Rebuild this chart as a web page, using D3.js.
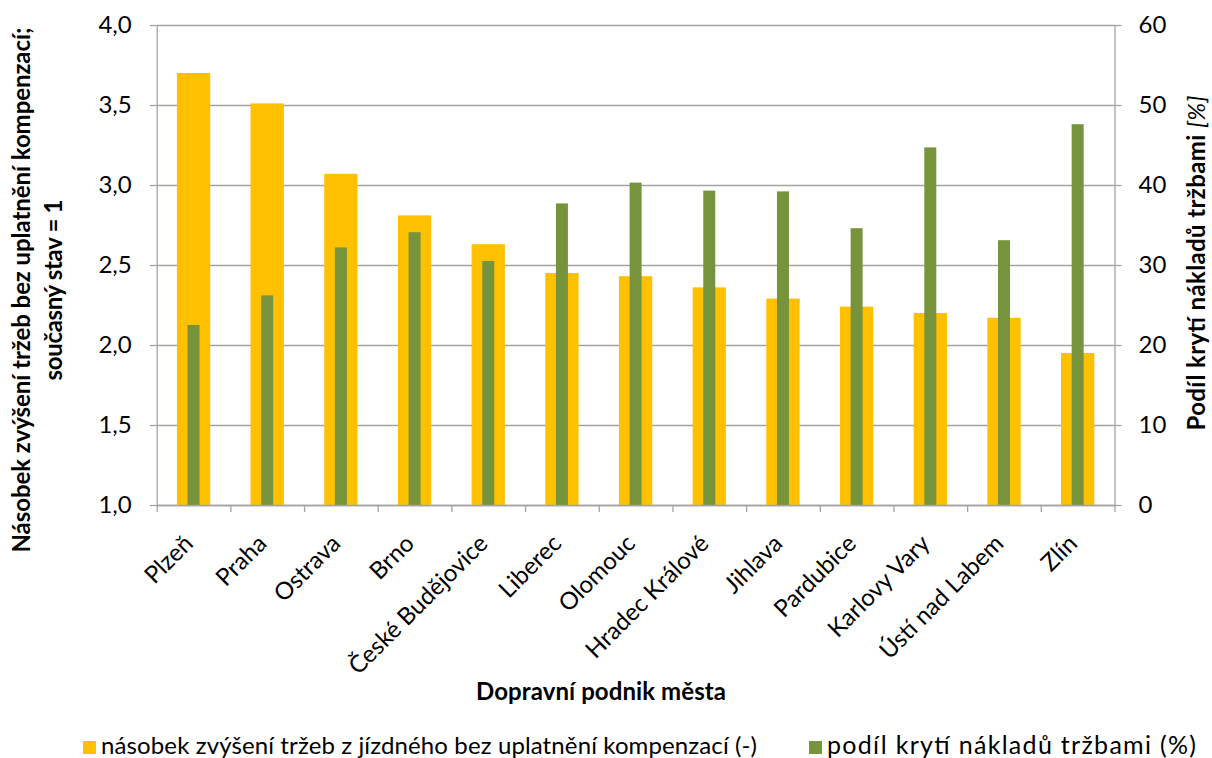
<!DOCTYPE html>
<html>
<head>
<meta charset="utf-8">
<script src="https://cdn.jsdelivr.net/npm/d3@7/dist/d3.min.js"></script>
<style>
  html, body { margin: 0; padding: 0; background: #fff; }
  svg text { font-family: Lato, "Open Sans", "Noto Sans", sans-serif; fill: #000; }
</style>
</head>
<body>
<svg id="chart" width="1212" height="758"></svg>
<script>
// Transit operators by city
const categories = ["Plzeň", "Praha", "Ostrava", "Brno", "České Budějovice", "Liberec",
  "Olomouc", "Hradec Králové", "Jihlava", "Pardubice", "Karlovy Vary", "Ústí nad Labem", "Zlín"];

// Fare revenue multiplier without compensation (current state = 1), left axis
const multiplier = [3.70, 3.51, 3.07, 2.81, 2.63, 2.45, 2.43, 2.36, 2.29, 2.24, 2.20, 2.17, 1.95];

// Share of costs covered by revenue, %, right axis
const coverage = [22.5, 26.2, 32.2, 34.1, 30.5, 37.7, 40.3, 39.3, 39.2, 34.6, 44.7, 33.1, 47.6];

const leftTicks = [1.0, 1.5, 2.0, 2.5, 3.0, 3.5, 4.0];
const rightTicks = [0, 10, 20, 30, 40, 50, 60];

const seriesNames = [
  "násobek zvýšení tržeb z jízdného bez uplatnění kompenzací (-)",
  "podíl krytí nákladů tržbami (%)"
];
const seriesColors = ["#FFC000", "#77933C"];

const svg = d3.select("#chart");
const plot = { left: 156.7, right: 1114.5, top: 25, bottom: 505 };
const gridColor = "#a3a3a3";
const fontSize = 24;

const x = d3.scaleBand().domain(categories).range([plot.left, plot.right]).padding(0);
const xEdge = d3.scaleLinear().domain([0, categories.length]).range([plot.left, plot.right]);
const yL = d3.scaleLinear().domain([1, 4]).range([plot.bottom, plot.top]);
const yR = d3.scaleLinear().domain([0, 60]).range([plot.bottom, plot.top]);
const commaFmt = v => d3.format(".1f")(v).replace(".", ",");

// Horizontal gridlines
svg.append("g")
  .attr("transform", `translate(${plot.left},0)`)
  .call(d3.axisLeft(yL).tickValues(leftTicks).tickSize(-(plot.right - plot.left)).tickFormat(""))
  .call(g => g.select(".domain").remove())
  .call(g => g.selectAll("line").attr("stroke", gridColor).attr("stroke-width", 1.3));

// Bars: wide multiplier bars with the narrow coverage bars drawn over them
const bw = x.bandwidth();
const wideW = bw * 0.452;
const narrowW = bw * 0.163;

svg.append("g").selectAll("rect")
  .data(categories)
  .join("rect")
  .attr("x", (d) => x(d) + (bw - wideW) / 2)
  .attr("width", wideW)
  .attr("y", (d, i) => yL(multiplier[i]))
  .attr("height", (d, i) => yL(1) - yL(multiplier[i]))
  .attr("fill", seriesColors[0]);

svg.append("g").selectAll("rect")
  .data(categories)
  .join("rect")
  .attr("x", (d) => x(d) + (bw - narrowW) / 2)
  .attr("width", narrowW)
  .attr("y", (d, i) => yR(coverage[i]))
  .attr("height", (d, i) => yR(0) - yR(coverage[i]))
  .attr("fill", seriesColors[1]);

// Axes
function styleAxis(g) {
  g.selectAll(".domain").attr("stroke", gridColor).attr("stroke-width", 1.3);
  g.selectAll(".tick line").attr("stroke", gridColor).attr("stroke-width", 1.3);
  g.selectAll("text").attr("font-size", fontSize).attr("fill", "#000")
    .attr("font-family", "Lato, 'Open Sans', sans-serif");
}

svg.append("g")
  .attr("transform", `translate(${plot.left},0)`)
  .call(d3.axisLeft(yL).tickValues(leftTicks).tickSize(7).tickSizeOuter(0).tickPadding(18).tickFormat(commaFmt))
  .call(styleAxis);

svg.append("g")
  .attr("transform", `translate(${plot.right},0)`)
  .call(d3.axisRight(yR).tickValues(rightTicks).tickSize(7).tickSizeOuter(0).tickPadding(17))
  .call(styleAxis);

svg.append("g")
  .attr("transform", `translate(0,${plot.bottom})`)
  .call(d3.axisBottom(xEdge).tickValues(d3.range(categories.length + 1)).tickSize(7).tickSizeOuter(0).tickFormat(""))
  .call(styleAxis);

// Category labels, rotated 45 degrees
svg.append("g").selectAll("text")
  .data(categories)
  .join("text")
  .attr("transform", d => `translate(${x(d) + bw / 2 + 1},${plot.bottom + 40}) rotate(-45)`)
  .attr("text-anchor", "end")
  .attr("font-size", fontSize)
  .text(d => d);

// Axis titles
const leftTitle = svg.append("text")
  .attr("transform", "translate(30,290) rotate(-90)")
  .attr("text-anchor", "middle")
  .attr("font-size", fontSize)
  .attr("font-weight", "bold");
leftTitle.append("tspan").attr("x", 0).attr("y", 0)
  .attr("textLength", 525).attr("lengthAdjust", "spacing")
  .text("Násobek zvýšení tržeb bez uplatnění kompenzací;");
leftTitle.append("tspan").attr("x", 0).attr("y", 32)
  .attr("textLength", 181).attr("lengthAdjust", "spacing")
  .text("současný stav = 1");

const rightTitle = svg.append("text")
  .attr("transform", "translate(1205,263) rotate(-90)")
  .attr("text-anchor", "middle")
  .attr("font-size", fontSize)
  .attr("font-weight", "bold")
  .attr("textLength", 335).attr("lengthAdjust", "spacing");
rightTitle.append("tspan").text("Podíl krytí nákladů tržbami ");
rightTitle.append("tspan").attr("font-style", "italic").attr("font-weight", "normal").text("[%]");

svg.append("text")
  .attr("x", 601).attr("y", 700)
  .attr("text-anchor", "middle")
  .attr("font-size", fontSize)
  .attr("font-weight", "bold")
  .attr("textLength", 250).attr("lengthAdjust", "spacing")
  .text("Dopravní podnik města");

// Legend
const legendPos = [{ sx: 83, tx: 101, len: 656, fs: 24 }, { sx: 809, tx: 827, len: 369, fs: 25 }];
const legend = svg.append("g").selectAll("g")
  .data(seriesNames)
  .join("g");
legend.append("rect")
  .attr("x", (d, i) => legendPos[i].sx)
  .attr("y", 741)
  .attr("width", 13).attr("height", 13)
  .attr("fill", (d, i) => seriesColors[i]);
legend.append("text")
  .attr("x", (d, i) => legendPos[i].tx)
  .attr("y", 754)
  .attr("font-size", (d, i) => legendPos[i].fs)
  .attr("textLength", (d, i) => legendPos[i].len)
  .attr("lengthAdjust", "spacing")
  .text(d => d);
</script>
</body>
</html>
